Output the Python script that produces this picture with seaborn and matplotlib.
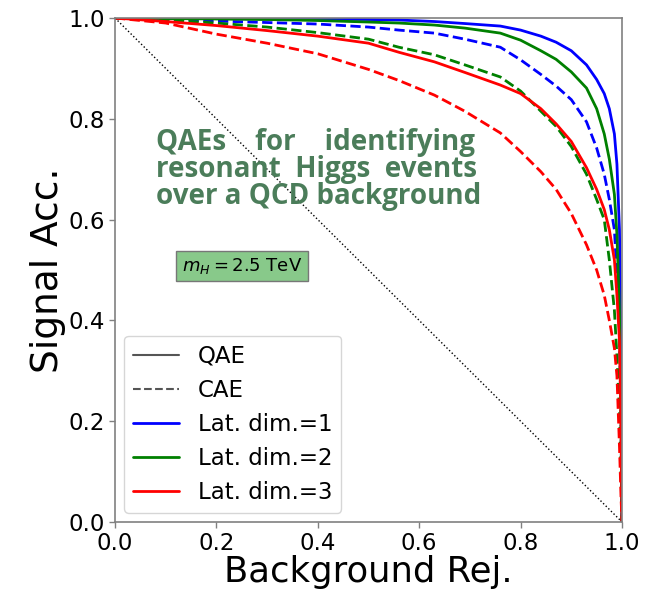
import matplotlib
matplotlib.use("Agg")
import matplotlib.pyplot as plt
from matplotlib.lines import Line2D
import numpy as np
import pandas as pd
import seaborn as sns

# ---------------- data ----------------
bkg_rej = [0.0, 0.1, 0.2, 0.3, 0.4, 0.5, 0.56, 0.63, 0.69, 0.76, 0.8, 0.84, 0.87,
           0.9, 0.93, 0.95, 0.965, 0.975, 0.985, 0.99, 0.995, 0.998, 1.0]

qae_dim1 = [1.0, 0.999, 0.999, 0.998, 0.998, 0.997, 0.996, 0.993, 0.989, 0.984, 0.976,
            0.964, 0.952, 0.935, 0.907, 0.878, 0.85, 0.82, 0.77, 0.71, 0.58, 0.35, 0.0]
qae_dim2 = [1.0, 0.999, 0.998, 0.997, 0.995, 0.992, 0.99, 0.986, 0.98, 0.97, 0.956,
            0.935, 0.918, 0.893, 0.861, 0.82, 0.77, 0.72, 0.65, 0.57, 0.42, 0.2, 0.0]
qae_dim3 = [1.0, 0.993, 0.985, 0.975, 0.964, 0.95, 0.932, 0.913, 0.892, 0.867, 0.85,
            0.82, 0.79, 0.755, 0.703, 0.66, 0.62, 0.58, 0.52, 0.45, 0.36, 0.2, 0.0]

cae_dim1 = [1.0, 0.998, 0.994, 0.991, 0.988, 0.982, 0.976, 0.97, 0.958, 0.942, 0.917,
            0.888, 0.865, 0.838, 0.794, 0.742, 0.69, 0.64, 0.58, 0.49, 0.38, 0.2, 0.0]
cae_dim2 = [1.0, 0.996, 0.99, 0.982, 0.971, 0.958, 0.942, 0.927, 0.907, 0.883, 0.855,
            0.815, 0.785, 0.745, 0.69, 0.64, 0.6, 0.52, 0.42, 0.33, 0.22, 0.1, 0.0]
cae_dim3 = [1.0, 0.99, 0.968, 0.95, 0.929, 0.898, 0.876, 0.847, 0.815, 0.772, 0.735,
            0.695, 0.66, 0.612, 0.55, 0.5, 0.45, 0.40, 0.345, 0.29, 0.15, 0.05, 0.0]

dim_labels = ["Lat. dim.=1", "Lat. dim.=2", "Lat. dim.=3"]
model_labels = ["QAE", "CAE"]
title_text = ("QAEs    for    identifying\n"
              "resonant  Higgs  events\n"
              "over a QCD background")
mass_label = r"$m_H = 2.5$ TeV"
x_label = "Background Rej."
y_label = "Signal Acc."
ticks = [0.0, 0.2, 0.4, 0.6, 0.8, 1.0]

# ---------------- long-form table ----------------
series = {("QAE", dim_labels[0]): qae_dim1, ("QAE", dim_labels[1]): qae_dim2,
          ("QAE", dim_labels[2]): qae_dim3, ("CAE", dim_labels[0]): cae_dim1,
          ("CAE", dim_labels[1]): cae_dim2, ("CAE", dim_labels[2]): cae_dim3}
rows = []
for (model, dim), vals in series.items():
    for x, y in zip(bkg_rej, vals):
        rows.append({"model": model, "dim": dim, "x": x, "y": y})
df = pd.DataFrame(rows)

colors = {dim_labels[0]: "#0000ff", dim_labels[1]: "#008000", dim_labels[2]: "#ff0000"}
dashes = {"QAE": "", "CAE": (3.7, 1.6)}

# ---------------- figure ----------------
sns.set_style("white")
plt.rcParams["font.family"] = ["DejaVu Sans"]
plt.rcParams["text.color"] = "black"
plt.rcParams["axes.labelcolor"] = "black"
plt.rcParams["xtick.color"] = "black"
plt.rcParams["ytick.color"] = "black"
fig = plt.figure(figsize=(6.59, 5.91), dpi=100)
ax = fig.add_axes([115 / 659, 1 - 522 / 591, 507 / 659, 504 / 591])

sns.lineplot(data=df, x="x", y="y", hue="dim", style="model", palette=colors,
             dashes=dashes, sort=False, estimator=None, linewidth=2.0,
             legend=False, ax=ax)

ax.plot([0, 1], [1, 0], linestyle=":", color="black", linewidth=1.0)

ax.set_xlim(0, 1)
ax.set_ylim(0, 1)
ax.set_xticks(ticks)
ax.set_yticks(ticks)
ax.set_xticklabels([f"{t:.1f}" for t in ticks])
ax.set_yticklabels([f"{t:.1f}" for t in ticks])
ax.tick_params(axis="both", which="major", labelsize=16.5, direction="out",
               length=4, width=1, color="#808080", labelcolor="black",
               bottom=True, left=True, pad=3)
for s in ax.spines.values():
    s.set_color("#808080")
    s.set_linewidth(1.2)
ax.set_xlabel(x_label, fontsize=25.5, labelpad=0)
ax.set_ylabel(y_label, fontsize=27, labelpad=2)

# legend
handles = [Line2D([], [], color="#555555", lw=1.5, ls="-"),
           Line2D([], [], color="#555555", lw=1.5, ls="--"),
           Line2D([], [], color=colors[dim_labels[0]], lw=2),
           Line2D([], [], color=colors[dim_labels[1]], lw=2),
           Line2D([], [], color=colors[dim_labels[2]], lw=2)]
ax.legend(handles, model_labels + dim_labels, loc="lower left", fontsize=16.5,
          frameon=True, labelspacing=0.48, borderaxespad=0.4)

# green annotation (anchored at the baseline of its last line)
green = "#4b7d5a"
ax.text((156 - 115) / 507, (522 - 204) / 504, title_text, ha="left", va="baseline",
        multialignment="left", linespacing=0.92, fontsize=20, fontweight="bold",
        color=green, family=["Open Sans", "DejaVu Sans"])

ax.text((242 - 115) / 507, (522 - 266) / 504, mass_label, ha="center", va="center",
        fontsize=13, color="black",
        bbox=dict(boxstyle="square,pad=0.3", facecolor="#88c98a", edgecolor="#777777",
                  linewidth=1))

fig.savefig("out.png", dpi=100)
